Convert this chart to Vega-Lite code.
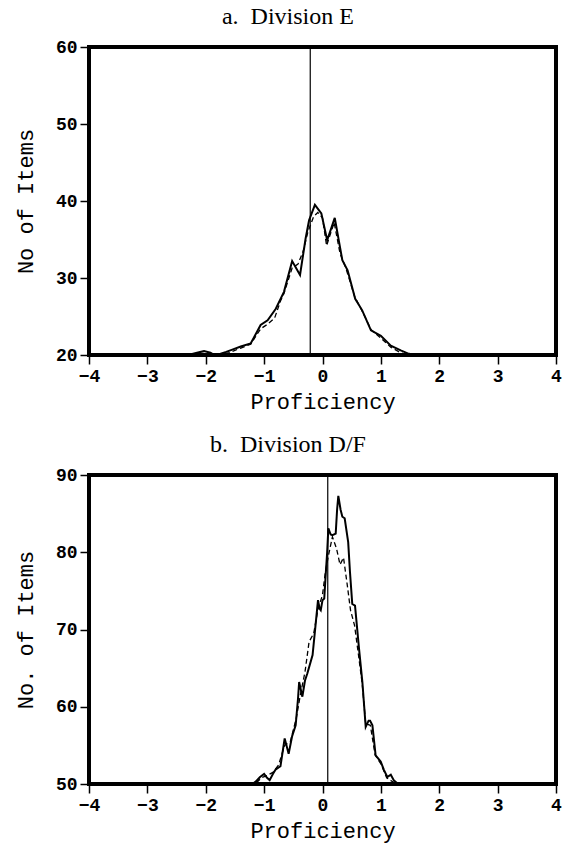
{
  "$schema": "https://vega.github.io/schema/vega-lite/v6.json",
  "padding": {"left": 12, "top": 3, "right": 0, "bottom": 0},
  "background": "white",
  "spacing": 17,
  "datasets": {
    "a": [
      {"s":"solid","x":-4,"y":20},{"s":"solid","x":-2.3,"y":20},{"s":"solid","x":-2.15,"y":20.3},{"s":"solid","x":-2.03,"y":20.5},{"s":"solid","x":-1.92,"y":20.3},{"s":"solid","x":-1.85,"y":20.0},{"s":"solid","x":-1.77,"y":20.1},{"s":"solid","x":-1.65,"y":20.4},{"s":"solid","x":-1.545,"y":20.7},{"s":"solid","x":-1.4,"y":21.1},{"s":"solid","x":-1.23,"y":21.5},{"s":"solid","x":-1.06,"y":23.9},{"s":"solid","x":-0.94,"y":24.5},{"s":"solid","x":-0.8,"y":26.0},{"s":"solid","x":-0.66,"y":28.2},{"s":"solid","x":-0.52,"y":32.2},{"s":"solid","x":-0.385,"y":30.4},{"s":"solid","x":-0.29,"y":35.1},{"s":"solid","x":-0.23,"y":37.5},{"s":"solid","x":-0.13,"y":39.5},{"s":"solid","x":-0.02,"y":38.4},{"s":"solid","x":0.08,"y":34.9},{"s":"solid","x":0.21,"y":37.8},{"s":"solid","x":0.34,"y":32.3},{"s":"solid","x":0.43,"y":31.0},{"s":"solid","x":0.56,"y":27.3},{"s":"solid","x":0.68,"y":25.8},{"s":"solid","x":0.83,"y":23.2},{"s":"solid","x":1.0,"y":22.5},{"s":"solid","x":1.17,"y":21.2},{"s":"solid","x":1.34,"y":20.6},{"s":"solid","x":1.48,"y":20.15},{"s":"solid","x":1.6,"y":20},{"s":"solid","x":4,"y":20},
      {"s":"dashed","x":-4,"y":20},{"s":"dashed","x":-1.8,"y":20},{"s":"dashed","x":-1.6,"y":20.3},{"s":"dashed","x":-1.4,"y":20.9},{"s":"dashed","x":-1.23,"y":21.4},{"s":"dashed","x":-1.06,"y":23.4},{"s":"dashed","x":-0.94,"y":24.0},{"s":"dashed","x":-0.82,"y":24.8},{"s":"dashed","x":-0.72,"y":27.0},{"s":"dashed","x":-0.66,"y":28.0},{"s":"dashed","x":-0.52,"y":31.3},{"s":"dashed","x":-0.42,"y":31.8},{"s":"dashed","x":-0.33,"y":33.5},{"s":"dashed","x":-0.25,"y":36.0},{"s":"dashed","x":-0.15,"y":38.0},{"s":"dashed","x":-0.08,"y":38.5},{"s":"dashed","x":0.0,"y":37.8},{"s":"dashed","x":0.07,"y":34.2},{"s":"dashed","x":0.2,"y":37.2},{"s":"dashed","x":0.3,"y":33.2},{"s":"dashed","x":0.4,"y":31.3},{"s":"dashed","x":0.55,"y":27.6},{"s":"dashed","x":0.7,"y":25.4},{"s":"dashed","x":0.83,"y":23.3},{"s":"dashed","x":1.0,"y":22.2},{"s":"dashed","x":1.17,"y":21.0},{"s":"dashed","x":1.34,"y":20.3},{"s":"dashed","x":1.45,"y":20},{"s":"dashed","x":4,"y":20}
    ],
    "b": [
      {"s":"solid","x":-4,"y":50},{"s":"solid","x":-1.2,"y":50},{"s":"solid","x":-1.145,"y":50.3},{"s":"solid","x":-1.07,"y":50.9},{"s":"solid","x":-1.0,"y":51.3},{"s":"solid","x":-0.95,"y":50.8},{"s":"solid","x":-0.905,"y":50.5},{"s":"solid","x":-0.85,"y":51.3},{"s":"solid","x":-0.8,"y":51.9},{"s":"solid","x":-0.72,"y":52.3},{"s":"solid","x":-0.648,"y":55.9},{"s":"solid","x":-0.6,"y":54.5},{"s":"solid","x":-0.58,"y":53.9},{"s":"solid","x":-0.52,"y":56.2},{"s":"solid","x":-0.46,"y":57.6},{"s":"solid","x":-0.42,"y":61.0},{"s":"solid","x":-0.4,"y":63.2},{"s":"solid","x":-0.345,"y":61.3},{"s":"solid","x":-0.3,"y":63.4},{"s":"solid","x":-0.26,"y":64.3},{"s":"solid","x":-0.17,"y":66.7},{"s":"solid","x":-0.12,"y":70.5},{"s":"solid","x":-0.077,"y":73.8},{"s":"solid","x":-0.05,"y":72.7},{"s":"solid","x":-0.03,"y":72.5},{"s":"solid","x":0.0,"y":73.8},{"s":"solid","x":0.03,"y":74.0},{"s":"solid","x":0.054,"y":77.0},{"s":"solid","x":0.08,"y":80.0},{"s":"solid","x":0.1,"y":83.1},{"s":"solid","x":0.14,"y":82.3},{"s":"solid","x":0.17,"y":82.2},{"s":"solid","x":0.226,"y":82.4},{"s":"solid","x":0.25,"y":85.5},{"s":"solid","x":0.271,"y":87.3},{"s":"solid","x":0.31,"y":85.5},{"s":"solid","x":0.34,"y":84.6},{"s":"solid","x":0.38,"y":84.4},{"s":"solid","x":0.44,"y":81.3},{"s":"solid","x":0.47,"y":77.5},{"s":"solid","x":0.51,"y":73.3},{"s":"solid","x":0.557,"y":73.1},{"s":"solid","x":0.626,"y":67.5},{"s":"solid","x":0.683,"y":63.2},{"s":"solid","x":0.74,"y":57.4},{"s":"solid","x":0.79,"y":58.2},{"s":"solid","x":0.815,"y":58.2},{"s":"solid","x":0.855,"y":57.6},{"s":"solid","x":0.91,"y":53.7},{"s":"solid","x":0.997,"y":52.9},{"s":"solid","x":1.054,"y":51.8},{"s":"solid","x":1.11,"y":50.9},{"s":"solid","x":1.17,"y":51.2},{"s":"solid","x":1.22,"y":50.5},{"s":"solid","x":1.28,"y":50.1},{"s":"solid","x":1.32,"y":50},{"s":"solid","x":4,"y":50},
      {"s":"dashed","x":-4,"y":50},{"s":"dashed","x":-1.15,"y":50},{"s":"dashed","x":-1.05,"y":50.8},{"s":"dashed","x":-0.95,"y":51.1},{"s":"dashed","x":-0.85,"y":51.5},{"s":"dashed","x":-0.75,"y":52.5},{"s":"dashed","x":-0.65,"y":55.0},{"s":"dashed","x":-0.55,"y":55.5},{"s":"dashed","x":-0.45,"y":58.5},{"s":"dashed","x":-0.38,"y":61.5},{"s":"dashed","x":-0.3,"y":64.5},{"s":"dashed","x":-0.23,"y":68.4},{"s":"dashed","x":-0.15,"y":69.5},{"s":"dashed","x":-0.08,"y":72.5},{"s":"dashed","x":0.0,"y":74.5},{"s":"dashed","x":0.05,"y":77.5},{"s":"dashed","x":0.1,"y":79.5},{"s":"dashed","x":0.17,"y":82.0},{"s":"dashed","x":0.24,"y":80.5},{"s":"dashed","x":0.3,"y":78.4},{"s":"dashed","x":0.36,"y":79.3},{"s":"dashed","x":0.42,"y":76.0},{"s":"dashed","x":0.48,"y":72.5},{"s":"dashed","x":0.55,"y":70.5},{"s":"dashed","x":0.62,"y":66.5},{"s":"dashed","x":0.68,"y":63.0},{"s":"dashed","x":0.74,"y":57.8},{"s":"dashed","x":0.82,"y":57.6},{"s":"dashed","x":0.9,"y":53.8},{"s":"dashed","x":1.0,"y":52.6},{"s":"dashed","x":1.1,"y":50.8},{"s":"dashed","x":1.2,"y":50.3},{"s":"dashed","x":1.28,"y":50},{"s":"dashed","x":4,"y":50}
    ]
  },
  "vconcat": [
    {
      "width": 467,
      "height": 308,
      "title": {"text": "a.\u00a0 Division E"},
      "layer": [
        {
          "data": {"name": "a"},
          "transform": [{"filter": "datum.s === 'dashed'"}],
          "mark": {"type": "line", "color": "black", "strokeWidth": 1.3, "strokeDash": [5, 3]},
          "encoding": {
            "x": {"field": "x", "type": "quantitative", "scale": {"domain": [-4, 4], "nice": false}, "axis": {"title": "Proficiency", "values": [-4,-3,-2,-1,0,1,2,3,4], "format": "d"}},
            "y": {"field": "y", "type": "quantitative", "scale": {"domain": [20, 60], "nice": false, "zero": false}, "axis": {"title": "No of Items", "values": [20,30,40,50,60], "format": "d"}}
          }
        },
        {
          "data": {"name": "a"},
          "transform": [{"filter": "datum.s === 'solid'"}],
          "mark": {"type": "line", "color": "black", "strokeWidth": 2},
          "encoding": {
            "x": {"field": "x", "type": "quantitative"},
            "y": {"field": "y", "type": "quantitative"}
          }
        },
        {
          "data": {"values": [{"x": -0.21}]},
          "mark": {"type": "rule", "color": "black", "strokeWidth": 1.2},
          "encoding": {"x": {"field": "x", "type": "quantitative"}}
        }
      ]
    },
    {
      "width": 467,
      "height": 309,
      "title": {"text": "b.\u00a0 Division D/F"},
      "layer": [
        {
          "data": {"name": "b"},
          "transform": [{"filter": "datum.s === 'dashed'"}],
          "mark": {"type": "line", "color": "black", "strokeWidth": 1.3, "strokeDash": [5, 3]},
          "encoding": {
            "x": {"field": "x", "type": "quantitative", "scale": {"domain": [-4, 4], "nice": false}, "axis": {"title": "Proficiency", "values": [-4,-3,-2,-1,0,1,2,3,4], "format": "d"}},
            "y": {"field": "y", "type": "quantitative", "scale": {"domain": [50, 90], "nice": false, "zero": false}, "axis": {"title": "No. of Items", "values": [50,60,70,80,90], "format": "d"}}
          }
        },
        {
          "data": {"name": "b"},
          "transform": [{"filter": "datum.s === 'solid'"}],
          "mark": {"type": "line", "color": "black", "strokeWidth": 2},
          "encoding": {
            "x": {"field": "x", "type": "quantitative"},
            "y": {"field": "y", "type": "quantitative"}
          }
        },
        {
          "data": {"values": [{"x": 0.09}]},
          "mark": {"type": "rule", "color": "black", "strokeWidth": 1.2},
          "encoding": {"x": {"field": "x", "type": "quantitative"}}
        }
      ]
    }
  ],
  "config": {
    "view": {"stroke": "black", "strokeWidth": 4},
    "axis": {
      "domain": false,
      "grid": false,
      "ticks": true,
      "tickColor": "black",
      "tickWidth": 1.5,
      "tickSize": 9,
      "labelPadding": 3,
      "labelFlush": false,
      "labelOverlap": false,
      "labelFont": "Liberation Mono",
      "labelFontSize": 18,
      "labelFontWeight": "bold",
      "labelColor": "black",
      "titleFont": "Liberation Mono",
      "titleFontSize": 22,
      "titleFontWeight": "normal",
      "titleColor": "black"
    },
    "axisX": {"titlePadding": 6},
    "axisY": {"titlePadding": 18},
    "title": {"font": "Liberation Serif", "fontSize": 24, "fontWeight": "normal", "color": "black", "anchor": "middle", "frame": "bounds", "offset": 9}
  }
}
